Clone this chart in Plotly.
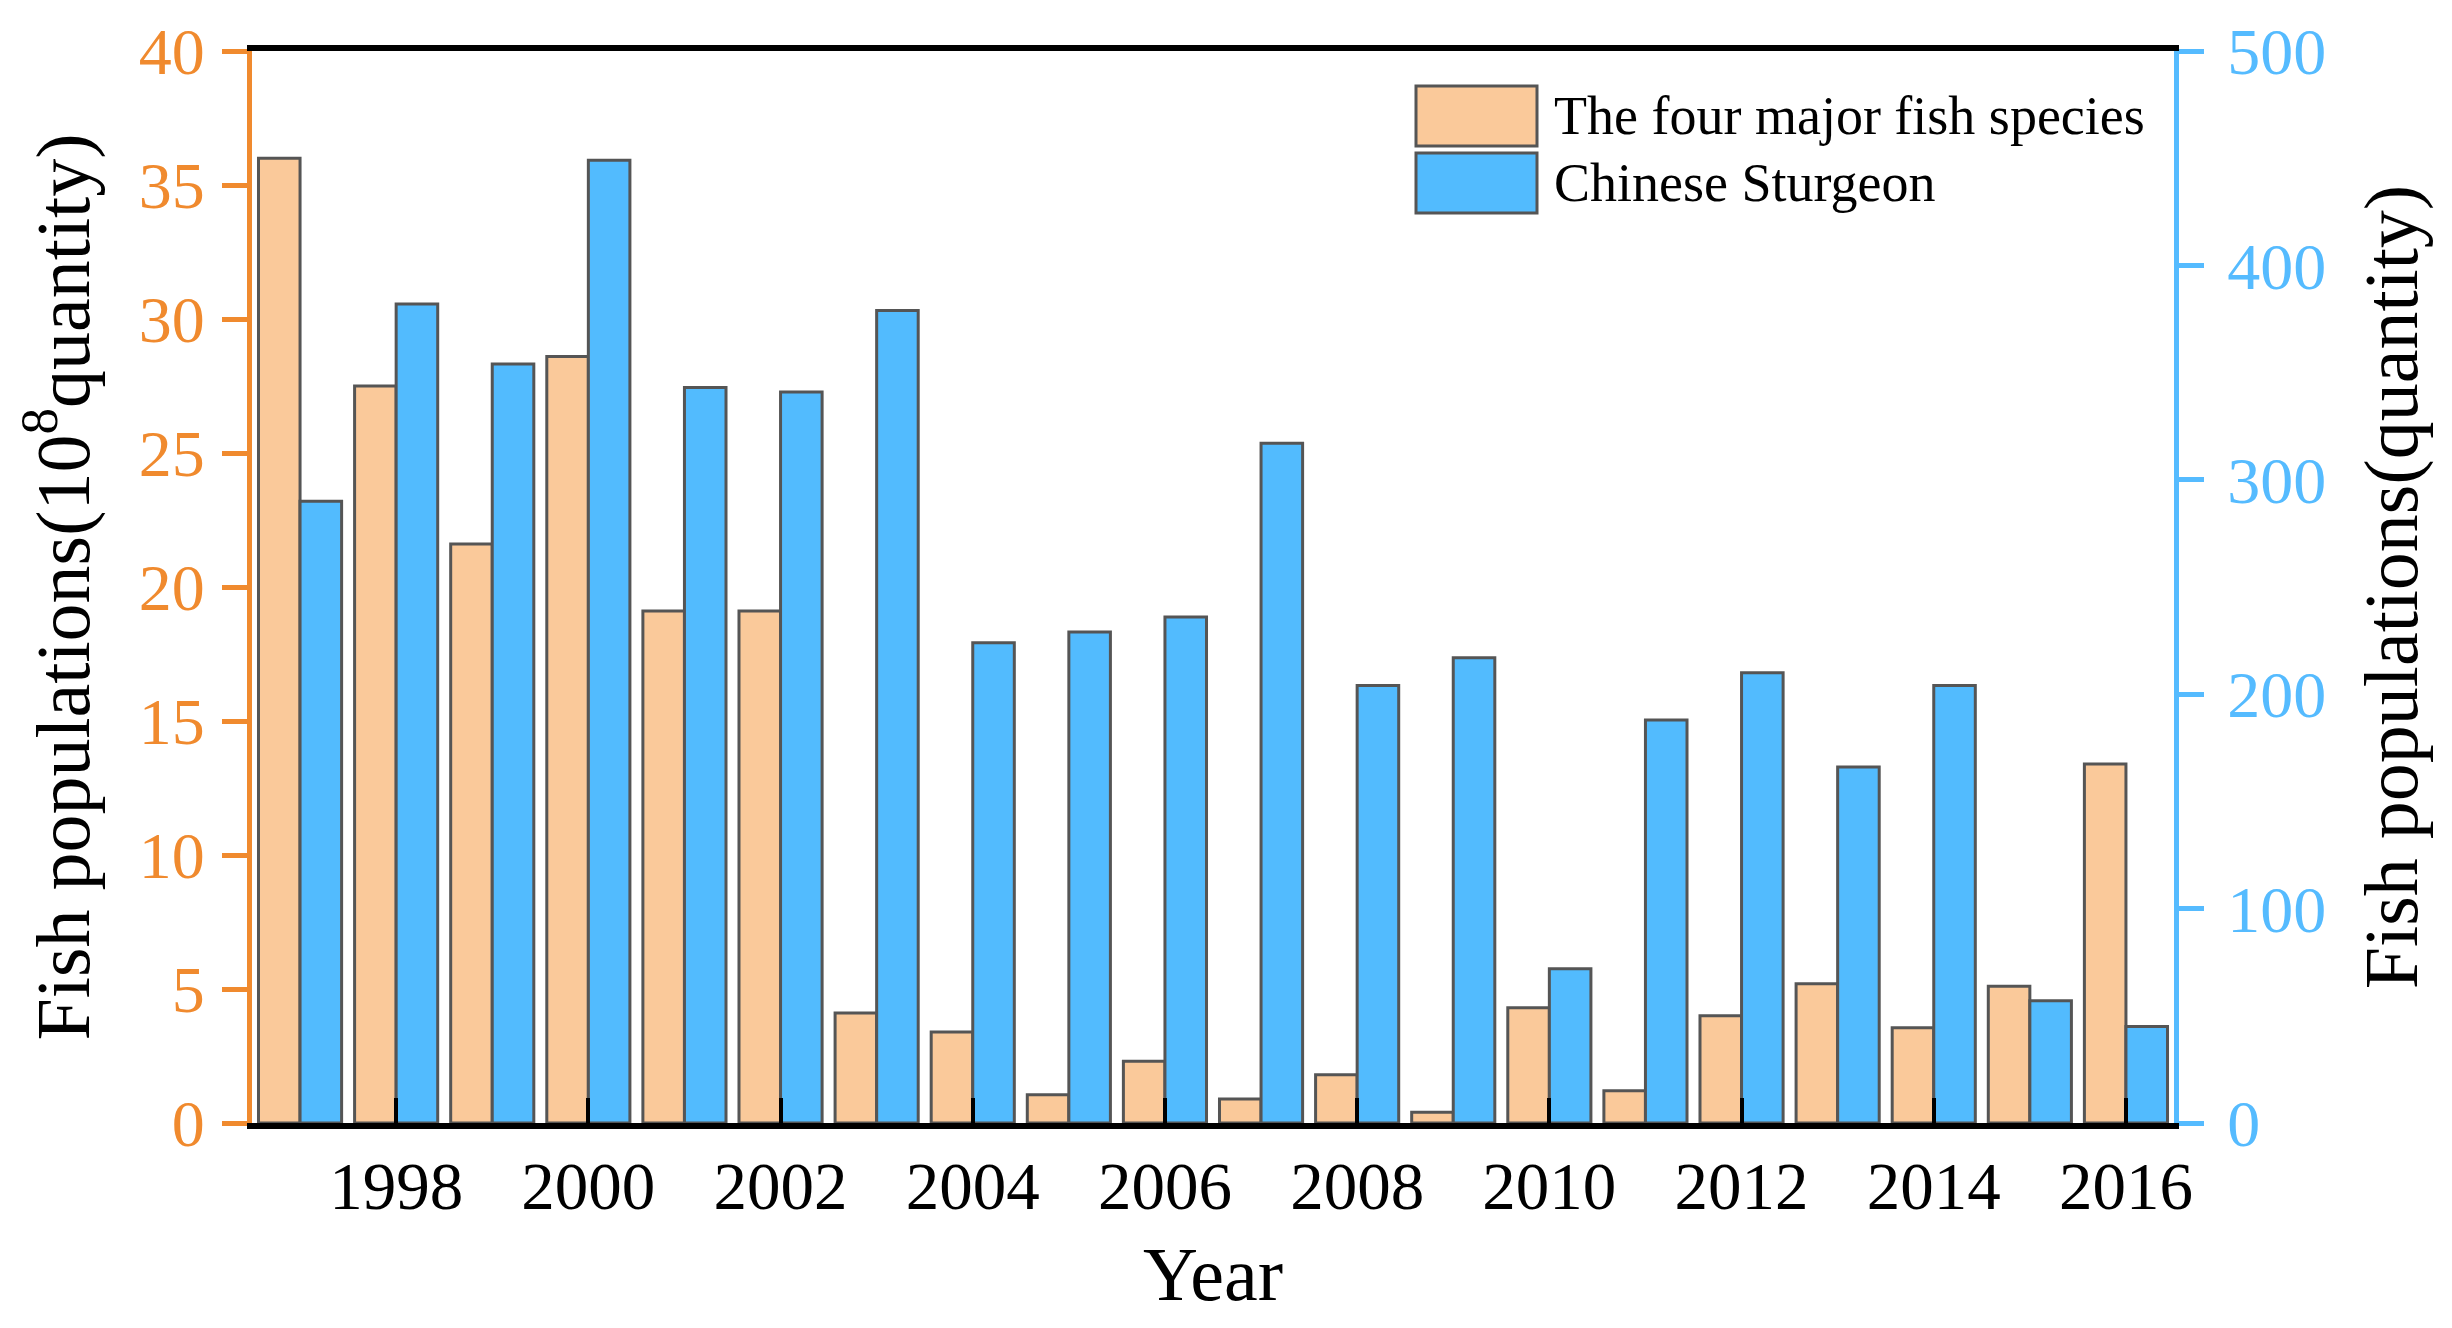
import plotly.graph_objects as go

years = list(range(1997, 2017))
four_major = [36.0, 27.5, 21.6, 28.6, 19.1, 19.1, 4.1, 3.4, 1.05, 2.3, 0.9, 1.8, 0.4, 4.3, 1.2, 4.0, 5.2, 3.55, 5.1, 13.4]
sturgeon = [290, 382, 354, 449, 343, 341, 379, 224, 229, 236, 317, 204, 217, 72, 188, 210, 166, 204, 57, 45]
series_names = ["The four major fish species", "Chinese Sturgeon"]
xtick_years = list(range(1998, 2017, 2))
xtick_labels = [str(y) for y in xtick_years]
left_ticks = list(range(0, 41, 5))
right_ticks = list(range(0, 501, 100))

ORANGE_FILL = "#FAC99A"
BLUE_FILL = "#52BBFE"
ORANGE_AX = "#F08A2E"
BLUE_AX = "#55BBFF"
EDGE = "#555555"
FONT = "Liberation Serif"

# page body adds an 8px margin; compensate so the plot lands where the reference has it
OFF = 8
W, H = 2452 - 2 * OFF, 1328 - 2 * OFF
ML, MT = 252 - OFF, 51 - OFF
PW, PH = 1922, 1072
MR = W - ML - PW
MB = H - MT - PH

fig = go.Figure()
bw = 0.4325
fig.add_trace(go.Bar(x=years, y=four_major, name=series_names[0], yaxis="y",
                     width=bw, offset=-bw, marker=dict(color=ORANGE_FILL, line=dict(color=EDGE, width=3)),
                     showlegend=False))
fig.add_trace(go.Bar(x=years, y=sturgeon, name=series_names[1], yaxis="y2",
                     width=bw, offset=0, marker=dict(color=BLUE_FILL, line=dict(color=EDGE, width=3)),
                     showlegend=False))

# legend drawn as large swatches + labels, as in the reference
def px(xp):
    return (xp - 252) / PW
def py(yp):
    return (51 + PH - yp) / PH

fills = [ORANGE_FILL, BLUE_FILL]
rows = [(86, 146), (153, 213)]
shapes = []
annotations = []
for name, fc, (y0, y1) in zip(series_names, fills, rows):
    shapes.append(dict(type="rect", xref="paper", yref="paper", x0=px(1416), x1=px(1537),
                       y0=py(y1), y1=py(y0), fillcolor=fc, line=dict(color=EDGE, width=3)))
    annotations.append(dict(xref="paper", yref="paper", x=px(1552), y=py((y0 + y1) / 2),
                            text=name, showarrow=False, xanchor="left", yanchor="middle",
                            font=dict(family=FONT, size=54, color="black")))

fig.update_layout(
    width=W, height=H,
    margin=dict(l=ML, r=MR, t=MT, b=MB, autoexpand=False),
    plot_bgcolor="white", paper_bgcolor="white",
    font=dict(family=FONT, color="black", size=20),
    shapes=shapes, annotations=annotations,
    xaxis=dict(range=[1996.5, 2016.5], tickvals=xtick_years, ticktext=xtick_labels,
               ticks="inside", ticklen=25, tickwidth=4, tickcolor="black",
               showline=True, linecolor="black", linewidth=6, mirror=True,
               showgrid=False, zeroline=False,
               tickfont=dict(family=FONT, size=67, color="black"), ticklabelstandoff=0,
               title=dict(text="Year", font=dict(family=FONT, size=76, color="black"), standoff=26)),
    yaxis=dict(range=[0, 40], tickvals=left_ticks, ticks="outside", ticklen=25, tickwidth=5,
               tickcolor=ORANGE_AX, showline=True, linecolor=ORANGE_AX, linewidth=5,
               showgrid=False, zeroline=False,
               tickfont=dict(family=FONT, size=66, color=ORANGE_AX), ticklabelstandoff=4,
               title=dict(text="Fish populations(10<sup>8</sup>quantity)",
                          font=dict(family=FONT, size=76, color="black"), standoff=26)),
    yaxis2=dict(range=[0, 500], tickvals=right_ticks, overlaying="y", side="right",
                ticks="outside", ticklen=25, tickwidth=5, tickcolor=BLUE_AX,
                showline=True, linecolor=BLUE_AX, linewidth=5, showgrid=False, zeroline=False,
                tickfont=dict(family=FONT, size=66, color=BLUE_AX), ticklabelstandoff=10,
                title=dict(text="Fish populations(quantity)",
                           font=dict(family=FONT, size=76, color="black"), standoff=40)),
)

fig.write_html("out.html")
